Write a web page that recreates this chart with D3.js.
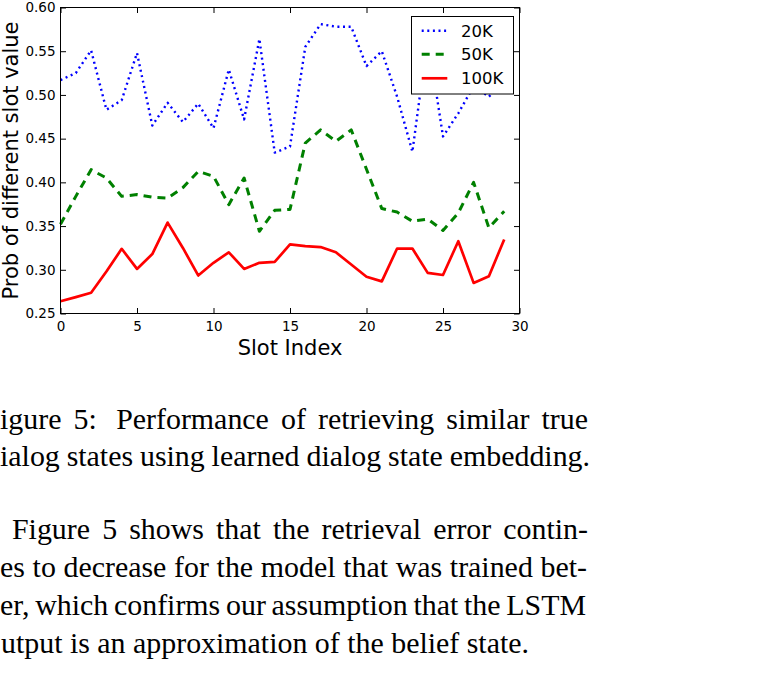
<!DOCTYPE html>
<html>
<head>
<meta charset="utf-8">
<script src="https://cdn.jsdelivr.net/npm/d3@7"></script>
<style>
  html, body { margin: 0; padding: 0; background: #fff; }
  svg { display: block; }
</style>
</head>
<body>
<svg width="780" height="680"></svg>
<script>
const slotIndex = [0, 1, 2, 3, 4, 5, 6, 7, 8, 9, 10, 11, 12, 13, 14,
  15, 16, 17, 18, 19, 20, 21, 22, 23, 24, 25, 26, 27, 28, 29]

const prob20K = [0.517, 0.525, 0.551, 0.483, 0.494, 0.548, 0.465, 0.491, 0.469, 0.490,
  0.462, 0.529, 0.472, 0.564, 0.434, 0.441, 0.555, 0.581, 0.578, 0.578,
  0.533, 0.550, 0.498, 0.435, 0.566, 0.4525, 0.479, 0.510, 0.498, 0.515]

const prob50K = [0.352, 0.384, 0.4145, 0.405, 0.384, 0.386, 0.383, 0.382, 0.394, 0.4125,
  0.407, 0.3745, 0.405, 0.344, 0.368, 0.369, 0.445, 0.460, 0.447, 0.460,
  0.415, 0.370, 0.366, 0.3555, 0.358, 0.345, 0.365, 0.400, 0.348, 0.367]

const prob100K = [0.264, 0.2687, 0.2737, 0.298, 0.324, 0.301, 0.318, 0.354, 0.325, 0.2935,
  0.308, 0.320, 0.301, 0.308, 0.309, 0.329, 0.327, 0.326, 0.320, 0.306,
  0.292, 0.2867, 0.3243, 0.3243, 0.2965, 0.294, 0.3327, 0.285, 0.2927, 0.3346]

const seriesNames = ['20K', '50K', '100K']
const xTicks = [0, 5, 10, 15, 20, 25, 30]
const yTicks = [0.25, 0.30, 0.35, 0.40, 0.45, 0.50, 0.55, 0.60]

const captionLines = [
  'igure 5:  Performance of retrieving similar true',
  'ialog states using learned dialog state embedding.',
  'Figure 5 shows that the retrieval error contin-',
  'es to decrease for the model that was trained bet-',
  'er, which confirms our assumption that the LSTM',
  'utput is an approximation of the belief state.',
]

const series = [
  { name: seriesNames[0], values: prob20K, color: '#0000ff', width: 2.4, dash: '2,3.6' },
  { name: seriesNames[1], values: prob50K, color: '#008000', width: 3, dash: '8,6' },
  { name: seriesNames[2], values: prob100K, color: '#ff0000', width: 2.7, dash: null },
]

const svg = d3.select('svg')
const plotLeft = 60.5, plotRight = 519.5, plotTop = 7.5, plotBottom = 313.5
const sansFont = 'DejaVu Sans, sans-serif'

const x = d3.scaleLinear().domain([0, 30]).range([plotLeft, plotRight])
const y = d3.scaleLinear().domain([0.25, 0.60]).range([plotBottom, plotTop])

const line = d3.line()
  .x((d, i) => x(slotIndex[i]))
  .y(d => y(d))

svg.selectAll('path.series')
  .data(series)
  .enter()
  .append('path')
  .attr('class', 'series')
  .attr('d', s => line(s.values))
  .attr('fill', 'none')
  .attr('stroke', s => s.color)
  .attr('stroke-width', s => s.width)
  .attr('stroke-dasharray', s => s.dash)
  .attr('stroke-linejoin', 'round')

// axes: ticks inside on all four sides, matplotlib classic look
const tickLen = 5.5
const styleAxis = g => {
  g.select('.domain').remove()
  g.selectAll('text').attr('font-family', sansFont).attr('font-size', 13.5).attr('fill', '#000')
  g.selectAll('line').attr('stroke', '#000')
}

svg.append('g')
  .attr('transform', `translate(0,${plotBottom})`)
  .call(d3.axisBottom(x).tickValues(xTicks).tickSizeInner(-tickLen).tickPadding(8).tickFormat(d3.format('d')))
  .call(styleAxis)

svg.append('g')
  .attr('transform', `translate(0,${plotTop})`)
  .call(d3.axisTop(x).tickValues(xTicks).tickSizeInner(-tickLen).tickFormat(''))
  .call(styleAxis)

svg.append('g')
  .attr('transform', `translate(${plotLeft},0)`)
  .call(d3.axisLeft(y).tickValues(yTicks).tickSizeInner(-tickLen).tickPadding(5).tickFormat(d3.format('.2f')))
  .call(styleAxis)

svg.append('g')
  .attr('transform', `translate(${plotRight},0)`)
  .call(d3.axisRight(y).tickValues(yTicks).tickSizeInner(-tickLen).tickFormat(''))
  .call(styleAxis)

svg.append('rect')
  .attr('x', plotLeft).attr('y', plotTop)
  .attr('width', plotRight - plotLeft).attr('height', plotBottom - plotTop)
  .attr('fill', 'none').attr('stroke', '#000').attr('stroke-width', 1)

svg.append('text')
  .attr('x', (plotLeft + plotRight) / 2).attr('y', 355)
  .attr('text-anchor', 'middle')
  .attr('font-family', sansFont).attr('font-size', 21)
  .text('Slot Index')

svg.append('text')
  .attr('transform', `translate(17.5,${(plotTop + plotBottom) / 2}) rotate(-90)`)
  .attr('text-anchor', 'middle')
  .attr('font-family', sansFont).attr('font-size', 21)
  .text('Prob of different slot value')

// legend
const legend = svg.append('g')
legend.append('rect')
  .attr('x', 411.5).attr('y', 16.5).attr('width', 102).attr('height', 77.5)
  .attr('fill', '#fff').attr('stroke', '#000').attr('stroke-width', 1)

const rowY = [30.7, 54.2, 78.3]
const items = legend.selectAll('g.item')
  .data(series)
  .enter()
  .append('g')
  .attr('class', 'item')
  .attr('transform', (s, i) => `translate(0,${rowY[i]})`)

items.append('line')
  .attr('x1', 421.7).attr('x2', 447.3)
  .attr('stroke', s => s.color)
  .attr('stroke-width', s => s.width)
  .attr('stroke-dasharray', s => s.dash)

items.append('text')
  .attr('x', 461).attr('y', 6)
  .attr('font-family', sansFont).attr('font-size', 16.5)
  .text(s => s.name)

// caption and body text, justified word by word
const serifSize = 29.9
const lineLayout = [
  { x0: 0, x1: 588, y: 429, justify: true },
  { x0: 0, x1: 590, y: 466, justify: true },
  { x0: 12, x1: 588, y: 538.5, justify: true },
  { x0: 0, x1: 587, y: 576.7, justify: true },
  { x0: 0, x1: 586, y: 614.8, justify: true },
  { x0: 1, x1: 0, y: 652.7, justify: false },
]

captionLines.forEach((txt, li) => {
  const lay = lineLayout[li]
  const t = svg.append('text')
    .attr('y', lay.y)
    .attr('font-family', 'Liberation Serif, Times New Roman, serif')
    .attr('font-size', serifSize)
    .attr('fill', '#000')
  const words = txt.split(/ +/)
  const spans = words.map(w => t.append('tspan').text(w))
  const widths = spans.map(s => s.node().getComputedTextLength())
  const gapWeights = words.slice(0, -1).map(w => (w.endsWith(':') ? 1.6 : 1))
  let gapUnit = serifSize * 0.25
  if (lay.justify) {
    const total = d3.sum(widths)
    gapUnit = (lay.x1 - lay.x0 - total) / d3.sum(gapWeights)
  }
  let cx = lay.x0
  spans.forEach((s, i) => {
    s.attr('x', cx)
    cx += widths[i] + (i < gapWeights.length ? gapWeights[i] * gapUnit : 0)
  })
})
</script>
</body>
</html>
